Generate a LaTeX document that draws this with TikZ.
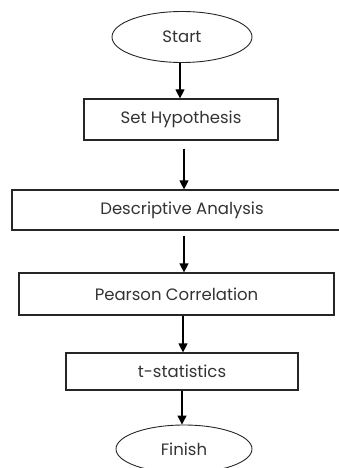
\documentclass[tikz,border=0pt]{standalone}
\usepackage{fontspec}
\setmainfont{Poppins}
\usetikzlibrary{shapes.geometric,arrows.meta,calc}
\begin{document}
\begin{tikzpicture}[x=1pt,y=-1pt,
  box/.style={draw=black!85,line width=1.2pt,rectangle,inner sep=0pt,font=\fontsize{16.5}{19}\selectfont,text=black!80},
  oval/.style={draw=black!85,line width=0.9pt,ellipse,inner sep=0pt,font=\fontsize{16.5}{19}\selectfont,text=black!80},
  arr/.style={line width=1.2pt,-{Triangle[width=9pt,length=9pt]}}]
\useasboundingbox (0,0) rectangle (338,468);
\node[oval,minimum width=140pt,minimum height=51pt] (start) at (182,37) {Start};
\node[box,minimum width=194pt,minimum height=41pt] (hyp) at (181,119.5) {Set Hypothesis};
\node[box,minimum width=340pt,minimum height=40pt] (desc) at (182,210) {Descriptive Analysis};
\node[box,minimum width=315pt,minimum height=42pt] (pear) at (176.5,294) {Pearson Correlation};
\node[box,minimum width=232pt,minimum height=37pt] (tstat) at (182,371.5) {t-statistics};
\node[oval,minimum width=136pt,minimum height=48pt] (finish) at (184,449) {Finish};
\coordinate (a1) at ($(start.south)+(-2,0)$);
\coordinate (a2) at ($(hyp.south)+(3,8)$);
\coordinate (a3) at ($(desc.south)+(2,5)$);
\coordinate (a4) at ($(pear.south)+(6.5,0)$);
\draw[arr] (a1) -- (a1 |- hyp.north);
\draw[arr] (a2) -- (a2 |- desc.north);
\draw[arr] (a3) -- (a3 |- pear.north);
\draw[arr] (a4) -- (a4 |- tstat.north);
\draw[arr] (tstat.south) -- (tstat.south |- finish.north);
\end{tikzpicture}
\end{document}
